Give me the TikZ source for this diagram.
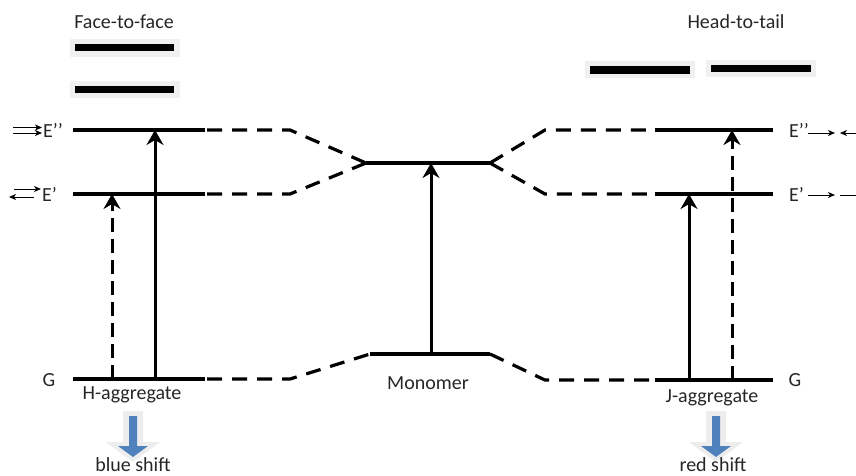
\documentclass[tikz,border=0pt]{standalone}
\usepackage{fontspec}
\setmainfont{Carlito}
\usetikzlibrary{arrows.meta}

\begin{document}
\begin{tikzpicture}[x=1pt,y=-1pt,
  energy/.style={line width=3.2pt},
  linkline/.style={line width=3.2pt, dash pattern=on 15pt off 10pt},
  excite/.style={line width=3pt, -{Stealth[length=15pt,width=17pt,inset=5pt]}},
  excitedash/.style={excite, dash pattern=on 14pt off 7pt},
  lbl/.style={font=\fontsize{20}{22}\selectfont, inner sep=0pt, text=black!85},
  smallarrow/.style={line width=1pt, -{Stealth[length=7pt,width=6pt,inset=2pt]}},
  barbg/.style={fill=black!6},
  shiftglow/.style={fill=black!7},
  shiftarrow/.style={fill={rgb,255:red,79;green,129;blue,189}},
]
\useasboundingbox (0,0) rectangle (856,475);

% ---- headings ----
\node[lbl] (ftf) at (124,22) {Face-to-face};
\node[lbl] (htt) at (736,22) {Head-to-tail};

% ---- stacked molecules (face-to-face) ----
\fill[barbg] (70,39) rectangle (180,57);
\fill (75,44) rectangle (174,51);
\fill[barbg] (70,81) rectangle (180,98);
\fill (75,86) rectangle (174,93);

% ---- head-to-tail molecules ----
\fill[barbg] (585,61) rectangle (695,78);
\fill (590,66) rectangle (690,74);
\fill[barbg] (706,60) rectangle (816,77);
\fill (711,65) rectangle (811,72);

% ---- level end points ----
\coordinate (HE2a) at (73,130);  \coordinate (HE2b) at (205,130);
\coordinate (HE1a) at (73,194);  \coordinate (HE1b) at (205,194);
\coordinate (HGa)  at (73,379);  \coordinate (HGb)  at (205,379);
\coordinate (MEa)  at (366,163); \coordinate (MEb)  at (490,163);
\coordinate (MGa)  at (370,354); \coordinate (MGb)  at (490,354);
\coordinate (JE2a) at (655,130); \coordinate (JE2b) at (773,130);
\coordinate (JE1a) at (655,194); \coordinate (JE1b) at (773,194);
\coordinate (JGa)  at (655,380); \coordinate (JGb)  at (773,380);

% bends of the correlation lines
\coordinate (bHE2) at (290,130); \coordinate (bHE1) at (290,194);
\coordinate (bHG)  at (290,379);
\coordinate (bJE2) at (545,130); \coordinate (bJE1) at (545,194);
\coordinate (bJG)  at (545,380);

% ---- energy levels ----
\draw[energy] (HE2a) -- (HE2b);
\draw[energy] (HE1a) -- (HE1b);
\draw[energy] (HGa) -- (HGb);
\draw[energy] (MEa) -- (MEb);
\draw[energy] (MGa) -- (MGb);
\draw[energy] (JE2a) -- (JE2b);
\draw[energy] (JE1a) -- (JE1b);
\draw[energy] (JGa) -- (JGb);

% ---- correlation lines ----
\draw[linkline, dash phase=-2pt] (HE2b) -- (bHE2) -- (MEa);
\draw[linkline, dash phase=-2pt] (HE1b) -- (bHE1) -- (MEa);
\draw[linkline, dash phase=-2pt] (HGb) -- (bHG) -- (MGa);
\draw[linkline] (MEb) -- (bJE2) -- (JE2a);
\draw[linkline] (MEb) -- (bJE1) -- (JE1a);
\draw[linkline] (MGb) -- (bJG) -- (JGa);

% ---- transitions ----
\coordinate (hs0) at (155,379); \coordinate (hs1) at (155,130);
\coordinate (hd0) at (112,379); \coordinate (hd1) at (112,194);
\coordinate (m0)  at (431,354); \coordinate (m1)  at (431,163);
\coordinate (js0) at (689,380); \coordinate (js1) at (689,194);
\coordinate (jd0) at (732,380); \coordinate (jd1) at (732,130);
\draw[excite] (hs0) -- (hs1);
\draw[excitedash] (hd0) -- (hd1);
\draw[excite] (m0) -- (m1);
\draw[excite] (js0) -- (js1);
\draw[excitedash] (jd0) -- (jd1);

% ---- level labels, left ----
\node[lbl, anchor=west] (lE2) at (43,130) {E’’};
\node[lbl, anchor=west] (lE1) at (42,194) {E’};
\node[lbl] (lG) at (49,380) {G};
\coordinate (a1s) at (13,127.5); \coordinate (a1e) at (42,127.5);
\coordinate (a2s) at (13,133);   \coordinate (a2e) at (42,133);
\coordinate (a3s) at (14,189);   \coordinate (a3e) at (41,189);
\coordinate (a4s) at (34,197);   \coordinate (a4e) at (9,197);
\draw[smallarrow] (a1s) -- (a1e);
\draw[smallarrow] (a2s) -- (a2e);
\draw[smallarrow] (a3s) -- (a3e);
\draw[smallarrow] (a4s) -- (a4e);

% ---- level labels, right ----
\node[lbl, anchor=west] (rE2) at (789,130) {E’’};
\node[lbl, anchor=west] (rE1) at (789,194) {E’};
\node[lbl] (rG) at (795,380) {G};
\coordinate (b1s) at (808,133); \coordinate (b1e) at (835,133);
\coordinate (b2s) at (860,133); \coordinate (b2e) at (840,133);
\coordinate (b3s) at (808,195); \coordinate (b3e) at (835,195);
\coordinate (b4s) at (840,195); \coordinate (b4e) at (860,195);
\draw[smallarrow] (b1s) -- (b1e);
\draw[smallarrow] (b2s) -- (b2e);
\draw[smallarrow] (b3s) -- (b3e);
\draw[line width=1pt] (b4s) -- (b4e);

% ---- captions ----
\node[lbl] (hagg) at (132,395) {H-aggregate};
\node[lbl] (mono) at (428,383) {Monomer};
\node[lbl] (jagg) at (712,398) {J-aggregate};

% ---- spectral shift arrows ----
\fill[shiftglow] (123,411) -- (143,411) -- (143,442) -- (160,442) -- (133,462) -- (106,442) -- (123,442) -- cycle;
\fill[shiftarrow] (129,416) -- (137,416) -- (137,446) -- (148,446) -- (133,457) -- (118,446) -- (129,446) -- cycle;
\fill[shiftglow] (706,411) -- (726,411) -- (726,442) -- (743,442) -- (716,462) -- (689,442) -- (706,442) -- cycle;
\fill[shiftarrow] (712,416) -- (720,416) -- (720,446) -- (731,446) -- (716,457) -- (701,446) -- (712,446) -- cycle;

\node[lbl, anchor=base, text depth=0pt] (blue) at (133,471) {blue shift};
\node[lbl, anchor=base, text depth=0pt] (red) at (713,471) {red shift};
\end{tikzpicture}
\end{document}
